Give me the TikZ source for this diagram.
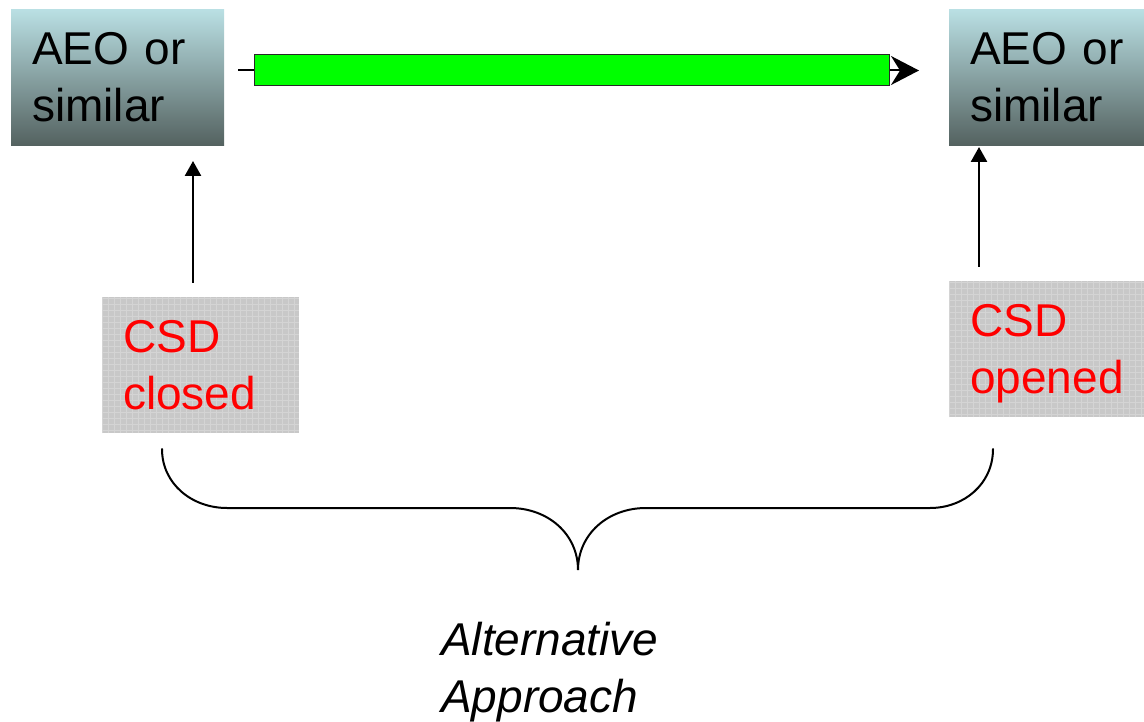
\documentclass[tikz,border=0pt]{standalone}
\usepackage{fontspec}
\setmainfont{Liberation Sans}
\usetikzlibrary{arrows.meta}
\definecolor{aeotop}{RGB}{186,224,228}
\definecolor{aeobot}{RGB}{84,98,96}
\definecolor{csdfill}{RGB}{200,200,200}
\definecolor{csdgrid}{RGB}{160,160,160}
\definecolor{barfill}{RGB}{0,255,0}
\definecolor{barline}{RGB}{40,40,40}
\definecolor{csdred}{RGB}{255,0,0}
\tikzset{
  bigfont/.style={font=\fontsize{46}{57}\selectfont},
  boxbase/.style={bigfont, anchor=north west, rectangle, minimum height=136pt,
    align=left, inner xsep=0pt, inner ysep=0pt},
  aeobox/.style={boxbase, top color=aeotop, bottom color=aeobot},
  csdbox/.style={boxbase, fill=csdfill, text=csdred,
    path picture={
      \draw[csdgrid, line width=1pt, step=6pt]
        (path picture bounding box.south west) grid (path picture bounding box.north east);
      \draw[white, line width=1pt, opacity=0.55, step=6pt, xshift=3pt, yshift=3pt]
        (path picture bounding box.south west) grid (path picture bounding box.north east);
    }},
  greenbar/.style={rectangle, fill=barfill, draw=barline, line width=1pt,
    minimum width=635pt, minimum height=31pt, inner sep=0pt},
  uparrow/.style={line width=2.6pt, -{Triangle[length=15pt,width=16pt]}},
  flowline/.style={line width=2pt},
  brace/.style={line width=2pt, line cap=round},
}
\newcommand{\ind}{\hspace*{21pt}}
\begin{document}
\begin{tikzpicture}[x=1pt,y=-1pt]
\useasboundingbox (0,0) rectangle (1144,722);

% AEO boxes
\node[aeobox, minimum width=213pt, text width=213pt] (aeoL) at (11,9) {\ind AEO or\\\ind similar};
\node[aeobox, minimum width=195pt, text width=195pt] (aeoR) at (949,9) {\ind AEO or\\\ind similar};

% CSD boxes
\node[csdbox, minimum width=197pt, text width=197pt] (csdL) at (102,297) {\ind CSD\\\ind closed};
\node[csdbox, minimum width=195pt, text width=195pt, text depth=57pt] (csdR) at (949,281) {\ind CSD\\\ind opened};

% green bar with arrow
\node[greenbar] (bar) at (571.5,70.5) {};
\coordinate (tail) at (238,70.5);
\coordinate (head) at (919,70.5);
\draw[flowline] (tail) -- (bar.west);
\draw[flowline, -{Stealth[length=28pt,width=29pt,inset=9pt]}] (bar.east) -- (head);

% vertical arrows
\coordinate (upLs) at (193,283);
\coordinate (upLe) at (193,161);
\coordinate (upRs) at (979,267);
\coordinate (upRe) at (979,147);
\draw[uparrow] (upLs) -- (upLe);
\draw[uparrow] (upRs) -- (upRe);

% brace
\coordinate (brL) at (162,449);
\coordinate (brM) at (578,570);
\coordinate (brR) at (993,449);
\draw[brace] (brL) .. controls (162,484) and (192,508) .. (227,508)
  -- (510,508) .. controls (548,508) and (578,534) .. (brM)
  .. controls (578,534) and (608,508) .. (646,508)
  -- (930,508) .. controls (964,508) and (993,484) .. (brR);

% caption
\node[anchor=north west, align=left, inner sep=0pt,
  font=\fontsize{46}{57}\selectfont\itshape] (caption) at (441,622) {Alternative\\Approach};
\end{tikzpicture}
\end{document}
